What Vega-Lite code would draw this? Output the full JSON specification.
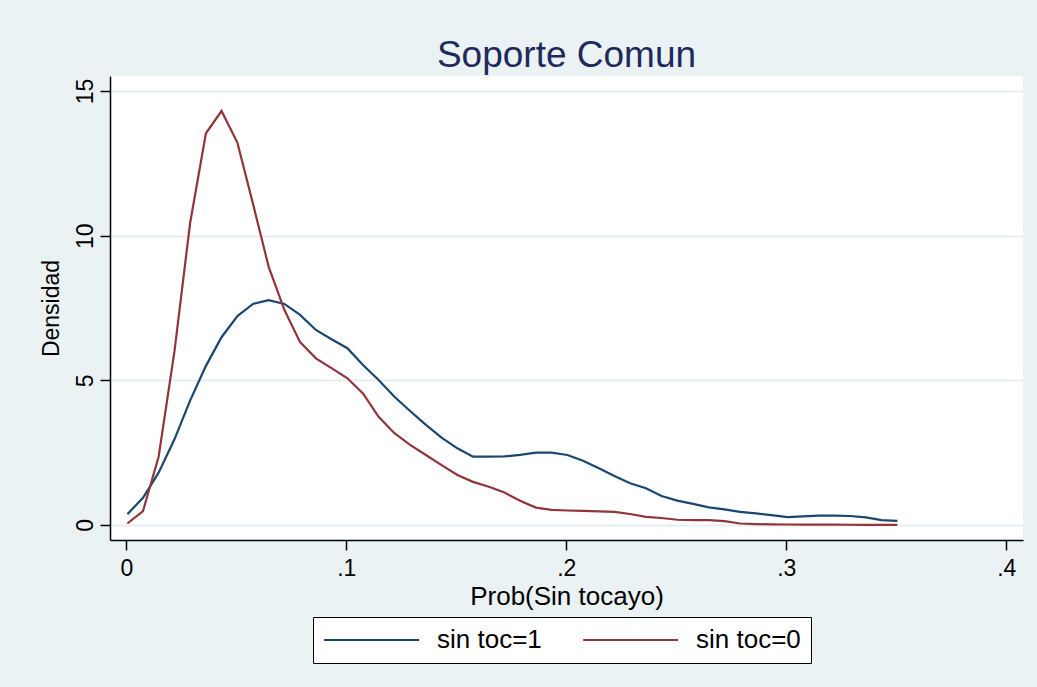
{
  "$schema": "https://vega.github.io/schema/vega-lite/v6.json",
  "width": 913,
  "height": 464,
  "autosize": {"type": "none"},
  "padding": {"left": 110, "top": 76, "right": 14, "bottom": 147},
  "background": "#EAF2F3",
  "title": {
    "text": "Soporte Comun",
    "fontSize": 37,
    "font": "Liberation Sans",
    "fontWeight": "normal",
    "color": "#1E2A5C",
    "anchor": "middle",
    "offset": 1
  },
  "config": {
    "view": {"fill": "white", "stroke": null},
    "font": "Liberation Sans"
  },
  "datasets": {
    "dens": [
      {"x": 0.0005, "y": 0.37, "g": "sin toc=1"},
      {"x": 0.0076, "y": 0.94, "g": "sin toc=1"},
      {"x": 0.0147, "y": 1.81, "g": "sin toc=1"},
      {"x": 0.0219, "y": 2.96, "g": "sin toc=1"},
      {"x": 0.0290, "y": 4.30, "g": "sin toc=1"},
      {"x": 0.0362, "y": 5.50, "g": "sin toc=1"},
      {"x": 0.0433, "y": 6.49, "g": "sin toc=1"},
      {"x": 0.0505, "y": 7.22, "g": "sin toc=1"},
      {"x": 0.0576, "y": 7.64, "g": "sin toc=1"},
      {"x": 0.0647, "y": 7.77, "g": "sin toc=1"},
      {"x": 0.0719, "y": 7.64, "g": "sin toc=1"},
      {"x": 0.0790, "y": 7.26, "g": "sin toc=1"},
      {"x": 0.0862, "y": 6.74, "g": "sin toc=1"},
      {"x": 0.0933, "y": 6.42, "g": "sin toc=1"},
      {"x": 0.1005, "y": 6.11, "g": "sin toc=1"},
      {"x": 0.1076, "y": 5.53, "g": "sin toc=1"},
      {"x": 0.1147, "y": 5.01, "g": "sin toc=1"},
      {"x": 0.1219, "y": 4.43, "g": "sin toc=1"},
      {"x": 0.1290, "y": 3.94, "g": "sin toc=1"},
      {"x": 0.1362, "y": 3.46, "g": "sin toc=1"},
      {"x": 0.1433, "y": 3.02, "g": "sin toc=1"},
      {"x": 0.1505, "y": 2.65, "g": "sin toc=1"},
      {"x": 0.1576, "y": 2.36, "g": "sin toc=1"},
      {"x": 0.1648, "y": 2.36, "g": "sin toc=1"},
      {"x": 0.1719, "y": 2.37, "g": "sin toc=1"},
      {"x": 0.1790, "y": 2.42, "g": "sin toc=1"},
      {"x": 0.1862, "y": 2.50, "g": "sin toc=1"},
      {"x": 0.1933, "y": 2.50, "g": "sin toc=1"},
      {"x": 0.2005, "y": 2.42, "g": "sin toc=1"},
      {"x": 0.2076, "y": 2.22, "g": "sin toc=1"},
      {"x": 0.2148, "y": 1.96, "g": "sin toc=1"},
      {"x": 0.2219, "y": 1.69, "g": "sin toc=1"},
      {"x": 0.2290, "y": 1.44, "g": "sin toc=1"},
      {"x": 0.2362, "y": 1.27, "g": "sin toc=1"},
      {"x": 0.2433, "y": 1.00, "g": "sin toc=1"},
      {"x": 0.2505, "y": 0.84, "g": "sin toc=1"},
      {"x": 0.2576, "y": 0.73, "g": "sin toc=1"},
      {"x": 0.2648, "y": 0.61, "g": "sin toc=1"},
      {"x": 0.2719, "y": 0.54, "g": "sin toc=1"},
      {"x": 0.2790, "y": 0.45, "g": "sin toc=1"},
      {"x": 0.2862, "y": 0.40, "g": "sin toc=1"},
      {"x": 0.2933, "y": 0.34, "g": "sin toc=1"},
      {"x": 0.3005, "y": 0.27, "g": "sin toc=1"},
      {"x": 0.3076, "y": 0.30, "g": "sin toc=1"},
      {"x": 0.3148, "y": 0.32, "g": "sin toc=1"},
      {"x": 0.3219, "y": 0.32, "g": "sin toc=1"},
      {"x": 0.3290, "y": 0.31, "g": "sin toc=1"},
      {"x": 0.3362, "y": 0.26, "g": "sin toc=1"},
      {"x": 0.3433, "y": 0.17, "g": "sin toc=1"},
      {"x": 0.3505, "y": 0.14, "g": "sin toc=1"},
      {"x": 0.0005, "y": 0.05, "g": "sin toc=0"},
      {"x": 0.0076, "y": 0.48, "g": "sin toc=0"},
      {"x": 0.0147, "y": 2.36, "g": "sin toc=0"},
      {"x": 0.0219, "y": 6.00, "g": "sin toc=0"},
      {"x": 0.0290, "y": 10.43, "g": "sin toc=0"},
      {"x": 0.0362, "y": 13.54, "g": "sin toc=0"},
      {"x": 0.0433, "y": 14.31, "g": "sin toc=0"},
      {"x": 0.0505, "y": 13.22, "g": "sin toc=0"},
      {"x": 0.0576, "y": 11.10, "g": "sin toc=0"},
      {"x": 0.0647, "y": 8.93, "g": "sin toc=0"},
      {"x": 0.0719, "y": 7.43, "g": "sin toc=0"},
      {"x": 0.0790, "y": 6.32, "g": "sin toc=0"},
      {"x": 0.0862, "y": 5.76, "g": "sin toc=0"},
      {"x": 0.0933, "y": 5.42, "g": "sin toc=0"},
      {"x": 0.1005, "y": 5.07, "g": "sin toc=0"},
      {"x": 0.1076, "y": 4.55, "g": "sin toc=0"},
      {"x": 0.1147, "y": 3.74, "g": "sin toc=0"},
      {"x": 0.1219, "y": 3.17, "g": "sin toc=0"},
      {"x": 0.1290, "y": 2.77, "g": "sin toc=0"},
      {"x": 0.1362, "y": 2.42, "g": "sin toc=0"},
      {"x": 0.1433, "y": 2.07, "g": "sin toc=0"},
      {"x": 0.1505, "y": 1.73, "g": "sin toc=0"},
      {"x": 0.1576, "y": 1.49, "g": "sin toc=0"},
      {"x": 0.1648, "y": 1.32, "g": "sin toc=0"},
      {"x": 0.1719, "y": 1.12, "g": "sin toc=0"},
      {"x": 0.1790, "y": 0.84, "g": "sin toc=0"},
      {"x": 0.1862, "y": 0.60, "g": "sin toc=0"},
      {"x": 0.1933, "y": 0.52, "g": "sin toc=0"},
      {"x": 0.2005, "y": 0.50, "g": "sin toc=0"},
      {"x": 0.2076, "y": 0.49, "g": "sin toc=0"},
      {"x": 0.2148, "y": 0.47, "g": "sin toc=0"},
      {"x": 0.2219, "y": 0.45, "g": "sin toc=0"},
      {"x": 0.2290, "y": 0.38, "g": "sin toc=0"},
      {"x": 0.2362, "y": 0.28, "g": "sin toc=0"},
      {"x": 0.2433, "y": 0.24, "g": "sin toc=0"},
      {"x": 0.2505, "y": 0.18, "g": "sin toc=0"},
      {"x": 0.2576, "y": 0.17, "g": "sin toc=0"},
      {"x": 0.2648, "y": 0.17, "g": "sin toc=0"},
      {"x": 0.2719, "y": 0.13, "g": "sin toc=0"},
      {"x": 0.2790, "y": 0.05, "g": "sin toc=0"},
      {"x": 0.2862, "y": 0.03, "g": "sin toc=0"},
      {"x": 0.2933, "y": 0.02, "g": "sin toc=0"},
      {"x": 0.3005, "y": 0.015, "g": "sin toc=0"},
      {"x": 0.3076, "y": 0.012, "g": "sin toc=0"},
      {"x": 0.3148, "y": 0.01, "g": "sin toc=0"},
      {"x": 0.3219, "y": 0.01, "g": "sin toc=0"},
      {"x": 0.3290, "y": 0.008, "g": "sin toc=0"},
      {"x": 0.3362, "y": 0.006, "g": "sin toc=0"},
      {"x": 0.3433, "y": 0.005, "g": "sin toc=0"},
      {"x": 0.3505, "y": 0.004, "g": "sin toc=0"}
    ]
  },
  "data": {"name": "dens"},
  "mark": {"type": "line", "strokeWidth": 2.2, "interpolate": "linear"},
  "encoding": {
    "x": {
      "field": "x",
      "type": "quantitative",
      "scale": {"domain": [-0.0074, 0.4076], "nice": false, "zero": false},
      "axis": {
        "title": "Prob(Sin tocayo)",
        "values": [0, 0.1, 0.2, 0.3, 0.4],
        "labelExpr": "datum.value == 0 ? '0' : replace(format(datum.value, '.1f'), '0.', '.')",
        "grid": false,
        "domainColor": "black",
        "domainWidth": 1.5,
        "tickColor": "black",
        "tickWidth": 1.5,
        "tickSize": 10,
        "labelFontSize": 23,
        "labelColor": "black",
        "labelPadding": 7,
        "labelFont": "Liberation Sans",
        "titleFont": "Liberation Sans",
        "titleFontSize": 26,
        "titleFontWeight": "normal",
        "titleColor": "black",
        "titlePadding": 3
      }
    },
    "y": {
      "field": "y",
      "type": "quantitative",
      "scale": {"domain": [-0.52, 15.52], "nice": false, "zero": false},
      "axis": {
        "title": "Densidad",
        "values": [0, 5, 10, 15],
        "grid": true,
        "gridColor": "#E6EEF1",
        "gridWidth": 2,
        "domainColor": "black",
        "domainWidth": 1.5,
        "tickColor": "black",
        "tickWidth": 1.5,
        "tickSize": 10,
        "labelAngle": -90,
        "labelFontSize": 23,
        "labelColor": "black",
        "labelPadding": 3,
        "labelFont": "Liberation Sans",
        "titleFont": "Liberation Sans",
        "titleFontSize": 23,
        "titleFontWeight": "normal",
        "titleColor": "black",
        "titlePadding": 11
      }
    },
    "color": {
      "field": "g",
      "type": "nominal",
      "scale": {"domain": ["sin toc=1", "sin toc=0"], "range": ["#1A476F", "#90353B"]},
      "legend": {
        "title": null,
        "orient": "none",
        "legendX": 203,
        "legendY": 541,
        "direction": "horizontal",
        "fillColor": "white",
        "strokeColor": "black",
        "padding": 10,
        "symbolType": "M-1,0H7",
        "symbolSize": 564,
        "symbolStrokeWidth": 2,
        "symbolFillColor": "transparent",
        "labelFontSize": 26,
        "labelFont": "Liberation Sans",
        "labelColor": "black",
        "labelOffset": 88,
        "columnPadding": 37,
        "labelLimit": 0
      }
    }
  }
}
